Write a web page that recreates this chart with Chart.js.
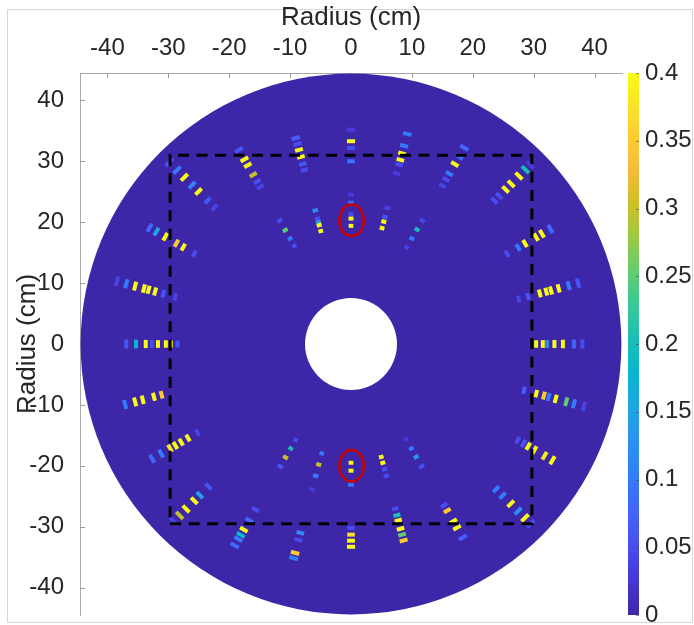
<!DOCTYPE html>
<html><head><meta charset="utf-8">
<script src="https://cdn.jsdelivr.net/npm/chart.js@4.4.1/dist/chart.umd.min.js"></script>
<style>html,body{margin:0;padding:0;background:#fff;}#wrap{width:694px;height:625px;}</style>
</head><body><div id="wrap"><canvas id="c" width="694" height="625"></canvas></div>
<script>
// ---------- data ----------
const xTicks = [-40, -30, -20, -10, 0, 10, 20, 30, 40];
const yTicks = [-40, -30, -20, -10, 0, 10, 20, 30, 40];
const cbTicks = [0, 0.05, 0.1, 0.15, 0.2, 0.25, 0.3, 0.35, 0.4];
const diskRadius = 44.4;
const holeRadius = 7.55;
const squareX = [-29.7, 29.7, 29.7, -29.7, -29.7];
const squareY = [-29.5, -29.5, 31.0, 31.0, -29.5];
const ellipseX = [0.1, 0.1];
const ellipseY = [20.3, -20.0];
const ellipseRX = [2.0, 2.0];
const ellipseRY = [2.6, 2.6];

// spokes (angle in degrees), radius of each dash (cm) and its value
const spokeAngles = [90, 75, 60, 45, 30, 15, 0, -15, -30, -45, -60, -75, -90, -105, -120, -135, -150, -165, 180, 165, 150, 135, 120, 105,
                     90, 75, 60, 105, 120, 240, 255, 270, 285, 300];
const spokeRadii = [
  [35.2, 33.3, 32.2, 30.0],
  [35.7, 33.7, 32.4, 31.3, 30.5, 29.0],
  [37.2, 35.5, 34.1, 32.3, 31.2, 30.0],
  [41.6, 40.5, 39.0, 37.2, 35.9, 34.4, 33.3],
  [37.8, 36.2, 35.1, 33.0, 31.7, 29.6],
  [38.6, 37.0, 35.3, 34.0, 33.2, 32.1, 30.1, 28.5],
  [30.4, 31.5, 32.2, 33.4, 34.8, 36.6, 38.0],
  [29.4, 31.5, 32.8, 33.6, 34.8, 36.6, 37.9, 39.6],
  [31.6, 32.7, 33.6, 34.8, 36.7, 38.2],
  [33.7, 35.2, 37.1, 38.8, 40.4, 41.7],
  [30.6, 31.6, 33.6, 34.8, 36.7],
  [28.0, 29.1, 30.0, 31.4, 32.4, 33.4],
  [30.2, 31.3, 32.3, 33.3],
  [32.1, 33.3, 35.5, 36.4],
  [31.4, 33.4, 35.2, 36.2, 37.0, 38.2],
  [33.1, 35.1, 36.4, 38.3, 39.8, 41.2],
  [29.1, 30.9, 32.2, 33.3, 34.3, 36.0, 37.7],
  [32.2, 33.5, 35.4, 36.7, 38.4],
  [28.5, 29.6, 30.4, 31.7, 32.7, 33.7, 35.3, 36.9],
  [29.9, 31.9, 33.3, 34.4, 35.2, 36.7, 38.2, 39.8],
  [29.7, 31.8, 33.1, 35.2, 36.9, 38.2],
  [31.7, 33.3, 35.4, 36.9, 38.7, 40.4, 42.2],
  [29.8, 30.8, 32.1, 33.9, 35.0, 36.8],
  [29.6, 30.6, 31.8, 33.0, 34.0, 35.0],
  [24.5, 23.2, 21.3, 20.6, 19.4],
  [23.1, 21.6, 20.8, 19.7],
  [23.4, 21.7, 20.0, 18.3],
  [22.7, 21.3, 20.7, 20.2, 19.2],
  [23.4, 21.6, 20.0, 18.6],
  [18.2, 19.8, 21.5, 23.2],
  [18.6, 20.5, 22.4, 24.7],
  [19.5, 20.8, 23.1],
  [19.2, 20.2, 21.3, 22.4],
  [18.1, 19.8, 21.4, 23.2]
];
const spokeValues = [
  [0.03, 0.4, 0.05, 0.1],
  [0.1, 0.1, 0.4, 0.4, 0.05, 0.03],
  [0.08, 0.08, 0.4, 0.1, 0.05, 0.04],
  [0.03, 0.2, 0.4, 0.4, 0.4, 0.05, 0.05],
  [0.08, 0.4, 0.4, 0.4, 0.1, 0.05],
  [0.06, 0.1, 0.4, 0.4, 0.4, 0.4, 0.06, 0.04],
  [0.4, 0.4, 0.12, 0.4, 0.4, 0.08, 0.05],
  [0.07, 0.4, 0.35, 0.1, 0.4, 0.25, 0.1, 0.04],
  [0.05, 0.06, 0.4, 0.4, 0.38, 0.4],
  [0.1, 0.1, 0.4, 0.12, 0.4, 0.05],
  [0.05, 0.35, 0.4, 0.4, 0.07],
  [0.05, 0.2, 0.4, 0.4, 0.25, 0.35],
  [0.05, 0.37, 0.4, 0.4],
  [0.12, 0.05, 0.35, 0.1],
  [0.05, 0.08, 0.4, 0.18, 0.1, 0.08],
  [0.06, 0.15, 0.4, 0.4, 0.3, 0.04],
  [0.04, 0.4, 0.4, 0.4, 0.38, 0.1, 0.08],
  [0.35, 0.4, 0.4, 0.4, 0.1],
  [0.06, 0.4, 0.4, 0.4, 0.05, 0.4, 0.18, 0.06],
  [0.04, 0.06, 0.4, 0.4, 0.4, 0.4, 0.1, 0.04],
  [0.05, 0.4, 0.35, 0.4, 0.15, 0.08],
  [0.04, 0.06, 0.4, 0.11, 0.4, 0.1, 0.06],
  [0.04, 0.05, 0.3, 0.4, 0.4, 0.06],
  [0.05, 0.06, 0.4, 0.4, 0.05, 0.07],
  [0.03, 0.08, 0.05, 0.4, 0.4],
  [0.04, 0.06, 0.4, 0.4],
  [0.04, 0.2, 0.1, 0.04],
  [0.12, 0.05, 0.15, 0.4, 0.4],
  [0.05, 0.25, 0.1, 0.05],
  [0.05, 0.2, 0.3, 0.06],
  [0.1, 0.3, 0.1, 0.03],
  [0.4, 0.4, 0.1],
  [0.4, 0.4, 0.05, 0.05],
  [0.03, 0.1, 0.13, 0.05]
];

// ---------- styling ----------
const CB_MIN = 0, CB_MAX = 0.4;
const PARULA = [
  [0, 62, 38, 168], [0.0635, 69, 55, 213], [0.127, 72, 77, 240], [0.190, 69, 99, 253],
  [0.254, 50, 124, 252], [0.317, 43, 145, 239], [0.381, 32, 165, 227], [0.444, 8, 181, 208],
  [0.508, 25, 191, 182], [0.571, 55, 200, 151], [0.635, 100, 205, 111], [0.698, 157, 201, 67],
  [0.762, 209, 191, 39], [0.825, 248, 186, 61], [0.889, 252, 207, 48], [0.952, 245, 233, 36],
  [1, 249, 251, 21]
];
function parula(v) {
  let t = (v - CB_MIN) / (CB_MAX - CB_MIN);
  t = Math.max(0, Math.min(1, t));
  for (let i = 1; i < PARULA.length; i++) {
    if (t <= PARULA[i][0]) {
      const a = PARULA[i - 1], b = PARULA[i];
      const f = (t - a[0]) / (b[0] - a[0]);
      return 'rgb(' + [1, 2, 3].map(k => Math.round(a[k] + (b[k] - a[k]) * f)).join(',') + ')';
    }
  }
  return 'rgb(249,251,21)';
}
const TEXT = '#262626';
const FONT = "'Liberation Sans', Arial, Helvetica, sans-serif";
const HALF_ANGLE = 0.02;     // half angular width of a dash (rad)
const DASH_THICK = 4;        // radial thickness in px

function ppu(chart) {
  const s = chart.scales.x;
  return s ? Math.abs(s.getPixelForValue(1) - s.getPixelForValue(0)) : 6;
}

const dashPts = [], dashColors = [], dashRot = [];
spokeAngles.forEach((a, i) => {
  const rad = a * Math.PI / 180;
  spokeRadii[i].forEach((r, j) => {
    dashPts.push({ x: r * Math.cos(rad), y: r * Math.sin(rad), r: r });
    dashColors.push(parula(spokeValues[i][j]));
    dashRot.push(90 - a);
  });
});

const squarePts = squareX.map((x, i) => ({ x: x, y: squareY[i] }));

const framePlugin = {
  id: 'frame',
  beforeDraw(chart) {
    const ctx = chart.ctx;
    ctx.save();
    ctx.fillStyle = '#fff';
    ctx.fillRect(0, 0, chart.width, chart.height);
    ctx.strokeStyle = '#d6d6d6';
    ctx.lineWidth = 1;
    ctx.strokeRect(7.5, 9.5, 685, 613);
    ctx.restore();
  },
  beforeDatasetsDraw(chart) {
    const ctx = chart.ctx, a = chart.chartArea, sx = chart.scales.x, sy = chart.scales.y;
    ctx.save();
    ctx.strokeStyle = '#9a9a9a';
    ctx.lineWidth = 1;
    ctx.beginPath();
    xTicks.forEach(v => { const p = Math.round(sx.getPixelForValue(v)) + 0.5; ctx.moveTo(p, a.top); ctx.lineTo(p, a.top + 5); });
    yTicks.forEach(v => { const p = Math.round(sy.getPixelForValue(v)) + 0.5; ctx.moveTo(a.left, p); ctx.lineTo(a.left + 5, p); });
    ctx.stroke();
    ctx.restore();
  },
  afterDatasetsDraw(chart) {
    const ctx = chart.ctx, sx = chart.scales.x, sy = chart.scales.y;
    ctx.save();
    ctx.strokeStyle = '#c80000';
    ctx.lineWidth = 2.6;
    for (let i = 0; i < ellipseX.length; i++) {
      const cx = sx.getPixelForValue(ellipseX[i]), cy = sy.getPixelForValue(ellipseY[i]);
      const rx = Math.abs(sx.getPixelForValue(ellipseX[i] + ellipseRX[i]) - cx);
      const ry = Math.abs(sy.getPixelForValue(ellipseY[i] + ellipseRY[i]) - cy);
      ctx.beginPath();
      ctx.ellipse(cx, cy, rx, ry, 0, 0, Math.PI * 2);
      ctx.stroke();
    }
    ctx.restore();
    const cb = chart.scales.cb;
    const x0 = cb.left + 6, w = 11;
    const yTop = cb.getPixelForValue(CB_MAX), yBot = cb.getPixelForValue(CB_MIN);
    const g = ctx.createLinearGradient(0, yBot, 0, yTop);
    PARULA.forEach(p => g.addColorStop(p[0], 'rgb(' + p[1] + ',' + p[2] + ',' + p[3] + ')'));
    ctx.save();
    ctx.fillStyle = g;
    ctx.fillRect(x0, yTop, w, yBot - yTop);
    ctx.strokeStyle = 'rgba(60,60,60,0.55)';
    ctx.lineWidth = 1;
    ctx.beginPath();
    cbTicks.forEach(v => {
      const p = Math.round(cb.getPixelForValue(v)) + 0.5;
      ctx.moveTo(x0 + w, p); ctx.lineTo(x0 + w - 3, p);
    });
    ctx.stroke();
    ctx.restore();
  }
};

const tickFont = { family: FONT, size: 24 };
const titleFont = { family: FONT, size: 26 };
const noPad = s => { s.paddingTop = 0; s.paddingBottom = 0; s.paddingLeft = 0; s.paddingRight = 0; };

new Chart(document.getElementById('c'), {
  type: 'scatter',
  data: {
    datasets: [
      {
        label: 'disk', data: [{ x: 0, y: 0 }], order: 10,
        pointRadius: ctx => diskRadius * ppu(ctx.chart),
        pointBackgroundColor: parula(0), pointBorderWidth: 0
      },
      {
        label: 'dashes', data: dashPts, order: 6,
        pointStyle: 'line',
        pointRadius: ctx => (ctx.raw ? ctx.raw.r : 30) * ppu(ctx.chart) * HALF_ANGLE,
        pointRotation: dashRot,
        pointBorderColor: dashColors,
        pointBackgroundColor: dashColors,
        pointBorderWidth: DASH_THICK
      },
      {
        label: 'hole', data: [{ x: 0, y: 0 }], order: 5,
        pointRadius: ctx => holeRadius * ppu(ctx.chart),
        pointBackgroundColor: '#ffffff', pointBorderWidth: 0
      },
      {
        label: 'square', data: squarePts, order: 4, showLine: true,
        borderColor: '#000', borderWidth: 3, borderDash: [11, 7.5], pointRadius: 0, fill: false, tension: 0
      }
    ]
  },
  options: {
    responsive: false, animation: false, events: [], devicePixelRatio: 1,
    layout: { padding: { left: 5, right: 0, top: 0, bottom: 10 } },
    plugins: { legend: { display: false }, tooltip: { enabled: false } },
    scales: {
      x: {
        type: 'linear', position: 'top', min: -44.5, max: 44.5,
        grid: { display: false, drawTicks: false },
        border: { display: true, color: '#a8a8a8', width: 1 },
        ticks: { font: tickFont, color: TEXT, padding: 10, autoSkip: false, maxRotation: 0 },
        afterBuildTicks: s => { s.ticks = xTicks.map(v => ({ value: v })); },
        title: { display: true, text: 'Radius (cm)', font: titleFont, color: TEXT, padding: { top: 2, bottom: 0 } },
        afterFit: s => { s.height = 73; noPad(s); }
      },
      y: {
        type: 'linear', position: 'left', min: -44.5, max: 44.5,
        grid: { display: false, drawTicks: false },
        border: { display: true, color: '#a8a8a8', width: 1 },
        ticks: { font: tickFont, color: TEXT, padding: 16, autoSkip: false },
        afterBuildTicks: s => { s.ticks = yTicks.map(v => ({ value: v })); },
        title: { display: true, text: 'Radius (cm)', font: titleFont, color: TEXT, padding: { top: 7, bottom: 0 } },
        afterFit: s => { s.width = 75; noPad(s); }
      },
      cb: {
        type: 'linear', position: 'right', min: CB_MIN, max: CB_MAX,
        grid: { display: false, drawTicks: false },
        border: { display: false },
        ticks: { font: tickFont, color: TEXT, padding: 23, autoSkip: false,
                 callback: v => String(Math.round(v * 100) / 100) },
        afterBuildTicks: s => { s.ticks = cbTicks.map(v => ({ value: v })); },
        afterFit: s => { s.width = 72; noPad(s); }
      }
    }
  },
  plugins: [framePlugin]
});
</script>
</body></html>
